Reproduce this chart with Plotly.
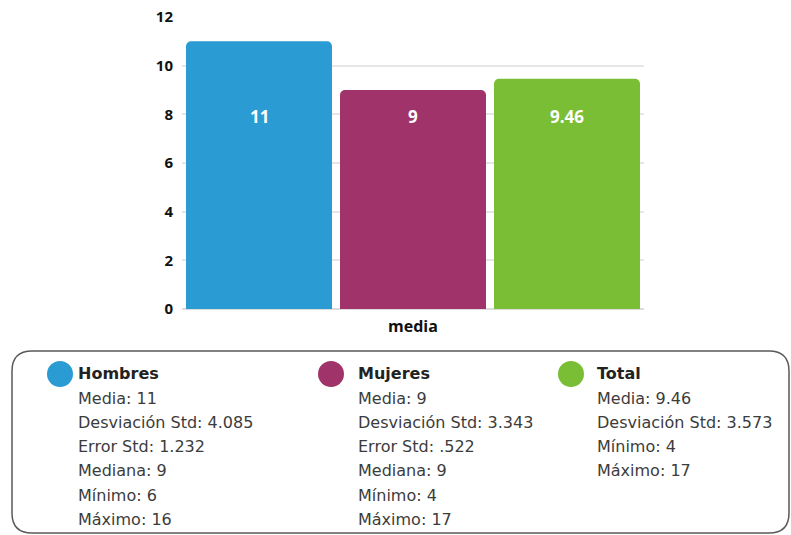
import plotly.graph_objects as go

# --- data ---
groups = ["Hombres", "Mujeres", "Total"]
medias = [11, 9, 9.46]
colors = ["#2A9BD3", "#A0336A", "#79BE35"]
category = "media"
y_ticks = [0, 2, 4, 6, 8, 10, 12]

stats = {
    "Hombres": ["Media: 11", "Desviación Std: 4.085", "Error Std: 1.232",
                "Mediana: 9", "Mínimo: 6", "Máximo: 16"],
    "Mujeres": ["Media: 9", "Desviación Std: 3.343", "Error Std: .522",
                "Mediana: 9", "Mínimo: 4", "Máximo: 17"],
    "Total": ["Media: 9.46", "Desviación Std: 3.573", "Mínimo: 4", "Máximo: 17"],
}

# --- layout geometry (pixels) ---
W, H = 791, 535
L, R, T, B = 182, 644, 17, 309
LEGEND_FONT = "DejaVu Sans"


def px(x):
    return (x - L) / (R - L)


def py(y):
    return (B - y) / (B - T)


fig = go.Figure()
for g, v, c in zip(groups, medias, colors):
    fig.add_trace(go.Bar(x=[category], y=[v], name=g, marker=dict(color=c, line=dict(width=0)),
                         showlegend=False, hoverinfo="skip"))

annotations = []
# value labels inside bars
n = len(groups)
for i, (g, v) in enumerate(zip(groups, medias)):
    annotations.append(dict(
        x=(i + 0.5) / n, xref="paper", y=7.9, yref="y",
        text=f"{v:g}", showarrow=False,
        font=dict(family="Open Sans", size=17, color="white", weight="bold"),
        xanchor="center", yanchor="middle"))

shapes = []
# rounded legend box
x0, x1, y0, y1, r = 12, 789, 351, 533, 20
path = (f"M {px(x0 + r)},{py(y0)} L {px(x1 - r)},{py(y0)} "
        f"Q {px(x1)},{py(y0)} {px(x1)},{py(y0 + r)} "
        f"L {px(x1)},{py(y1 - r)} Q {px(x1)},{py(y1)} {px(x1 - r)},{py(y1)} "
        f"L {px(x0 + r)},{py(y1)} Q {px(x0)},{py(y1)} {px(x0)},{py(y1 - r)} "
        f"L {px(x0)},{py(y0 + r)} Q {px(x0)},{py(y0)} {px(x0 + r)},{py(y0)} Z")
shapes.append(dict(type="path", xref="paper", yref="paper", path=path,
                   line=dict(color="#5a5a5a", width=1.5), fillcolor="rgba(0,0,0,0)"))

col_x = {"Hombres": (60, 76), "Mujeres": (331, 356), "Total": (571, 595)}
title_y, line_h, rad = 374, 24.2, 13
for g, c in zip(groups, colors):
    cx, tx = col_x[g]
    shapes.append(dict(type="circle", xref="paper", yref="paper",
                       x0=px(cx - rad), x1=px(cx + rad), y0=py(title_y + rad), y1=py(title_y - rad),
                       fillcolor=c, line=dict(width=0)))
    annotations.append(dict(x=px(tx), y=py(title_y), xref="paper", yref="paper",
                            text=g, showarrow=False, xanchor="left", yanchor="middle",
                            font=dict(family=LEGEND_FONT, size=16, color="#222", weight="bold")))
    for k, line in enumerate(stats[g]):
        annotations.append(dict(x=px(tx), y=py(title_y + (k + 1) * line_h), xref="paper", yref="paper",
                                text=line, showarrow=False, xanchor="left", yanchor="middle",
                                font=dict(family=LEGEND_FONT, size=16, color="#3c3c3c")))

fig.update_layout(
    width=W, height=H,
    margin=dict(l=L, r=W - R, t=T, b=H - B, pad=0, autoexpand=False),
    paper_bgcolor="white", plot_bgcolor="white",
    barmode="group", bargap=0, bargroupgap=0.052, barcornerradius=5,
    shapes=shapes, annotations=annotations,
    xaxis=dict(showgrid=False, showline=False, ticks="", automargin=False,
               tickfont=dict(family="Open Sans", size=16, color="#111", weight="bold"),
               ticklabelstandoff=6),
    yaxis=dict(range=[0, 12], tickvals=y_ticks, showgrid=True, gridcolor="#e6e6e6", gridwidth=1.5,
               zeroline=True, zerolinecolor="#dcdcdc", showline=False, ticks="", automargin=False,
               tickfont=dict(family="Open Sans", size=15, color="#111", weight="bold"),
               ticklabelstandoff=8),
    font=dict(family="Open Sans"),
)

fig.write_html("out.html")
